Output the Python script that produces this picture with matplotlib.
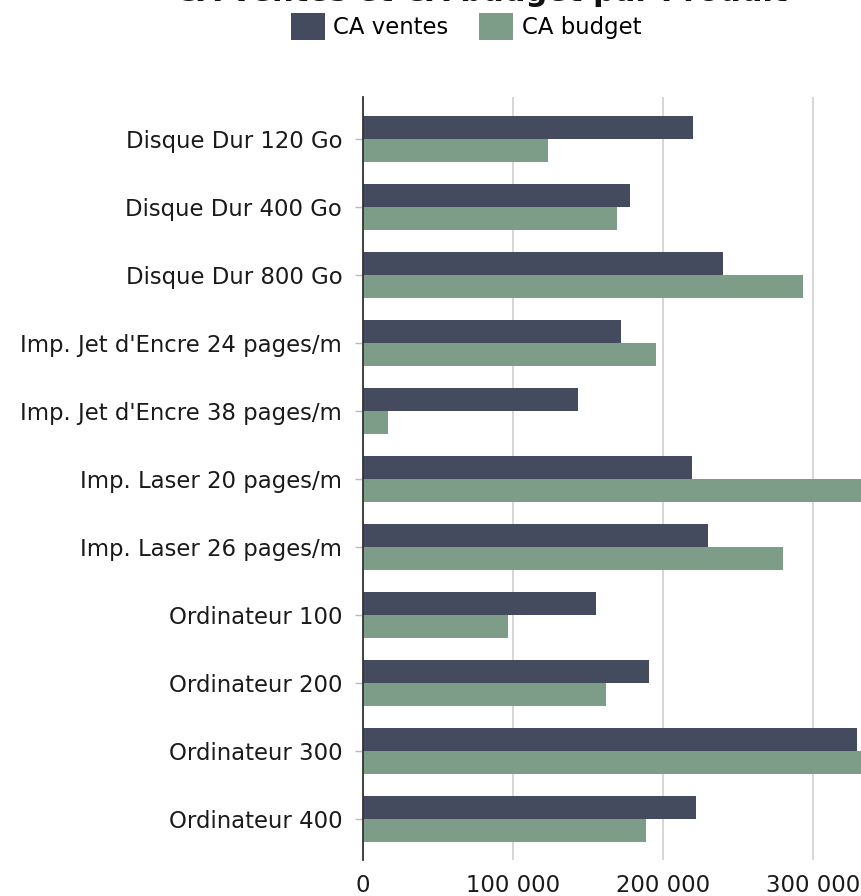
import matplotlib
matplotlib.use("Agg")
import matplotlib.pyplot as plt
from matplotlib.patches import Patch
import numpy as np

# Data
produits = [
    "Disque Dur 120 Go",
    "Disque Dur 400 Go",
    "Disque Dur 800 Go",
    "Imp. Jet d'Encre 24 pages/m",
    "Imp. Jet d'Encre 38 pages/m",
    "Imp. Laser 20 pages/m",
    "Imp. Laser 26 pages/m",
    "Ordinateur 100",
    "Ordinateur 200",
    "Ordinateur 300",
    "Ordinateur 400",
]
ca_ventes = [220000, 178000, 240000, 172000, 143500, 219000, 229800,
             155300, 190700, 329600, 222200]
ca_budget = [123300, 169300, 293300, 195300, 16700, 350000, 280000,
             96700, 162000, 345000, 188900]
x_ticks = [0, 100000, 200000, 300000]
x_tick_labels = ["0", "100 000", "200 000", "300 000"]

col_ventes = "#454b5f"
col_budget = "#7d9d89"

plt.rcParams["font.family"] = ["DejaVu Sans"]
fs = 16.4

fig = plt.figure(figsize=(8.61, 8.96), dpi=100)
ax = fig.add_axes([363 / 861, 36 / 896, 1 - 363 / 861, (860 - 97) / 896])

y = np.arange(len(produits))
h = 0.34
ax.barh(y - h / 2, ca_ventes, height=h, color=col_ventes, zorder=3)
ax.barh(y + h / 2, ca_budget, height=h, color=col_budget, zorder=3)

ax.set_xlim(0, 332000)
ax.set_ylim(10.6, -0.62)
ax.set_yticks(y)
ax.set_yticklabels(produits, fontsize=fs, color="#1a1a1a")
ax.set_xticks(x_ticks)
ax.set_xticklabels(x_tick_labels, fontsize=fs, color="#1a1a1a")

ax.tick_params(axis="y", length=6, width=1, color="#bbbbbb", pad=9)
ax.tick_params(axis="x", length=0, pad=10)

ax.grid(axis="x", color="#d3d3d3", linewidth=1.3, zorder=0)
for s in ["top", "right", "bottom"]:
    ax.spines[s].set_visible(False)
ax.spines["left"].set_color("#333333")
ax.spines["left"].set_linewidth(1.3)
ax.spines["left"].set_zorder(4)

# title is mostly cut off at the top of the picture
fig.text(481 / 861, 1 - 0.7 / 896, "CA ventes et CA budget par Produit",
         ha="center", va="baseline", fontsize=22, fontweight="bold",
         color="#111111")

handles = [Patch(facecolor=col_ventes, label="CA ventes"),
           Patch(facecolor=col_budget, label="CA budget")]
fig.legend(handles=handles, loc="center", bbox_to_anchor=(466 / 861, 1 - 26.5 / 896),
           ncol=2, frameon=False, fontsize=fs, handlelength=1.5,
           handleheight=1.45, handletextpad=0.36, columnspacing=1.35,
           borderpad=0)

fig.savefig("out.png", dpi=100)
